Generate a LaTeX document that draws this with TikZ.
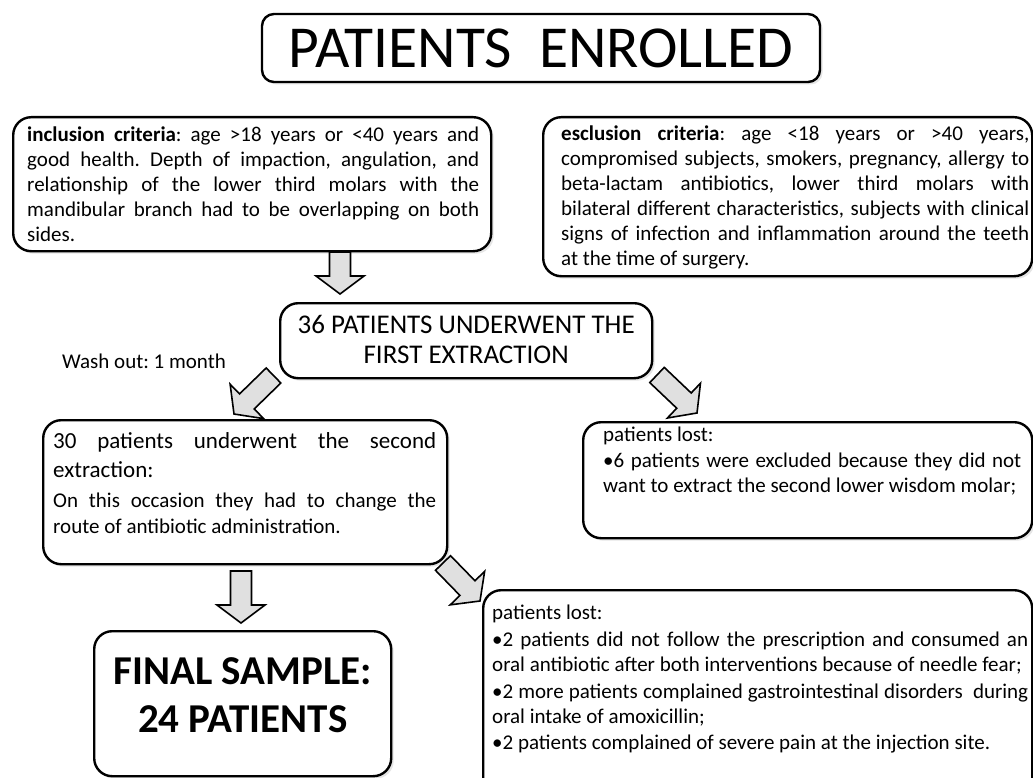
\documentclass[tikz,border=0pt]{standalone}
\usepackage{fontspec}
\setmainfont{Carlito}
\usetikzlibrary{calc,shadows}
\frenchspacing
% justified box text: width, height, left skip, right skip, first baseline, content
\newcommand\bx[6]{\begin{minipage}[t][#2pt][t]{#1pt}\leftskip=#3\rightskip=#4\parindent=0pt\hyphenpenalty=10000\exhyphenpenalty=10000\noindent\rule{0pt}{#5pt}#6\end{minipage}}
% centred box text: width, height, first baseline, content
\newcommand\bxc[4]{\begin{minipage}[t][#2pt][t]{#1pt}\centering\rule{0pt}{#3pt}#4\end{minipage}}
\newcommand\blockarrow[2]{%
  \coordinate (ba) at ($(#2)!18pt!(#1)$);
  \draw[barrow] ($(#1)!10.5pt!90:(#2)$) -- ($(ba)!10.5pt!90:(#2)$) -- ($(ba)!24pt!90:(#2)$) -- (#2)
    -- ($(ba)!24pt!-90:(#2)$) -- ($(ba)!10.5pt!-90:(#2)$) -- ($(#1)!10.5pt!-90:(#2)$) -- cycle;}
\begin{document}
\begin{tikzpicture}[x=1pt,y=-1pt,
  box/.style={draw, line width=2.4pt, rounded corners=18pt, fill=white, inner sep=0pt, anchor=north west,
    general shadow={fill=black!10, shadow xshift=2.5pt, shadow yshift=-2.5pt}},
  barrow/.style={draw, fill=black!12, line width=1.6pt, line join=miter},
  body/.style={font=\fontsize{21}{25}\selectfont}]
\useasboundingbox (0,0) rectangle (1033,778);
\clip (0,0) rectangle (1033,778);
\fill[white] (0,0) rectangle (1033,778);

\node[box, rounded corners=12pt, anchor=center, minimum width=558pt, minimum height=68pt,
  font=\fontsize{59.5}{62}\selectfont] (title) at (541,48) {PATIENTS\ \ ENROLLED};

\node[box, body] (incl) at (12,116) {\bx{478}{134}{14pt}{12pt}{24}{\textbf{inclusion criteria}: age >18 years or <40 years and\linebreak good health. Depth of impaction, angulation, and\linebreak relationship of the lower third molars with the\linebreak mandibular branch had to be overlapping on both\linebreak sides.}};

\node[box, body] (escl) at (542,116) {\bx{489}{159}{18pt}{3pt}{23.5}{\textbf{esclusion criteria}: age <18 years or >40 years,\linebreak compromised subjects, smokers, pregnancy, allergy to\linebreak beta-lactam antibiotics, lower third molars with\linebreak bilateral different characteristics, subjects with clinical\linebreak signs of infection and inflammation around the teeth\linebreak at the time of surgery.}};

\node[box, font=\fontsize{27}{29.5}\selectfont] (first) at (279,302) {\bxc{372}{75}{30.5}{36 PATIENTS UNDERWENT THE\\FIRST EXTRACTION}};

\node[anchor=base west, inner sep=0pt, font=\fontsize{21}{25}\selectfont] (wash) at (62,368.5) {Wash out: 1 month};

\node[box] (second) at (42,419) {\bx{404}{144}{10pt}{11pt}{28.5}{\fontsize{23}{28.5}\selectfont 30 patients underwent the second\linebreak extraction:\par\vspace{5pt}\fontsize{21}{25.5}\selectfont On this occasion they had to change the\linebreak route of antibiotic administration.}};

\node[box, body] (lostA) at (582,421) {\bx{449}{116}{20pt}{11pt}{19.5}{\fontsize{21}{24.5}\selectfont patients lost:\par\vspace{1.5pt}•6 patients were excluded because they did not\linebreak want to extract the second lower wisdom molar;}};

\node[box, body] (lostB) at (482,589) {\bx{549}{215}{9pt}{4pt}{29}{\fontsize{21}{24.5}\selectfont patients lost:\par\vspace{3pt}•2 patients did not follow the prescription and consumed an\linebreak oral antibiotic after both interventions because of needle fear;\par\vspace{3pt}•2 more patients complained gastrointestinal disorders\ \ during\linebreak oral intake of amoxicillin;\par\vspace{2pt}•2 patients complained of severe pain at the injection site.}};

\node[box] (final) at (93,630) {\bxc{297}{145}{53}{\fontsize{41}{48}\selectfont\bfseries FINAL SAMPLE:\\24 PATIENTS}};

\coordinate (a1s) at (340,252);   \coordinate (a1e) at (340,294);
\coordinate (a2s) at (273.5,375.5); \coordinate (a2e) at (234,414);
\coordinate (a3s) at (657,375);   \coordinate (a3e) at (697,413);
\coordinate (a4s) at (241,571);   \coordinate (a4e) at (241,623);
\coordinate (a5s) at (443,563);   \coordinate (a5e) at (480,601);
\blockarrow{a1s}{a1e}
\blockarrow{a2s}{a2e}
\blockarrow{a3s}{a3e}
\blockarrow{a4s}{a4e}
\blockarrow{a5s}{a5e}
\end{tikzpicture}
\end{document}
